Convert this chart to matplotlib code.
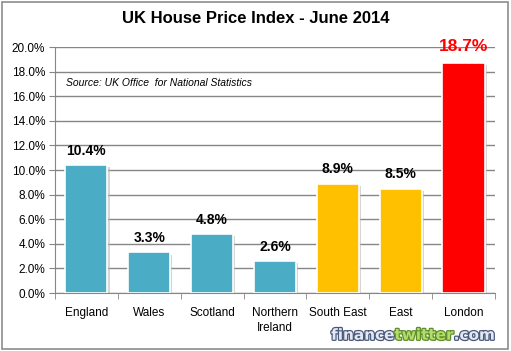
import matplotlib.pyplot as plt
import matplotlib.patheffects as pe

regions = ['England', 'Wales', 'Scotland', 'Northern\nIreland', 'South East', 'East', 'London']
growth = [10.4, 3.3, 4.8, 2.6, 8.9, 8.5, 18.7]
colors = ['#4BACC6', '#4BACC6', '#4BACC6', '#4BACC6', '#FFC000', '#FFC000', '#FF0000']
label_colors = ['black'] * 6 + ['#FF0000']
yticks = [0, 2, 4, 6, 8, 10, 12, 14, 16, 18, 20]

plt.rcParams['font.family'] = ['Liberation Sans', 'DejaVu Sans']

fig = plt.figure(figsize=(5.11, 3.51), dpi=100)
fig.patch.set_facecolor('white')
fig.add_artist(plt.Rectangle((0.004, 0.006), 0.99, 0.988, transform=fig.transFigure,
                             fill=False, edgecolor='#8C8C8C', linewidth=1.2))
ax = fig.add_axes([0.1076, 0.165, 0.861, 0.701])

x = range(len(regions))
bars = ax.bar(x, growth, width=0.67, color=colors, edgecolor='white', linewidth=1.2, zorder=3)
for b in bars:
    b.set_path_effects([pe.SimplePatchShadow(offset=(1.5, -1.5), shadow_rgbFace='#BBBBBB', alpha=0.6),
                        pe.Normal()])

for xi, v, c in zip(x, growth, label_colors):
    if c == 'black':
        ax.text(xi, v + 1.15, f'{v:.1f}%', ha='center', va='center', fontsize=10,
                fontweight='bold', color=c)
    else:
        ax.text(xi, v + 1.35, f'{v:.1f}%', ha='center', va='center', fontsize=12.5,
                fontweight='bold', color=c)

ax.set_ylim(0, 20)
ax.set_xlim(-0.5, len(regions) - 0.5)
ax.set_yticks(yticks)
ax.set_yticklabels([f'{t:.1f}%' for t in yticks], fontsize=8.5)
ax.set_xticks(x)
ax.set_xticklabels(regions, fontsize=8.5, linespacing=1.3)
ax.set_xticks([i - 0.5 for i in range(len(regions) + 1)], minor=True)
ax.tick_params(axis='x', which='major', length=0, pad=10)
ax.tick_params(axis='x', which='minor', length=4, color='#868686')
ax.tick_params(axis='y', length=4, color='#868686', pad=3)
ax.grid(axis='y', color='#868686', linewidth=1, zorder=0)
for s in ['top', 'right']:
    ax.spines[s].set_visible(False)
ax.spines['left'].set_color('#868686')
ax.spines['bottom'].set_color('#868686')

fig.text(0.5, 0.948, 'UK House Price Index - June 2014', ha='center', va='center',
         fontsize=12, fontweight='bold')
ax.text(0.025, 0.853, 'Source: UK Office  for National Statistics', transform=ax.transAxes,
        fontsize=7.5, style='italic', va='center')

# watermark
fig.canvas.draw()
renderer = fig.canvas.get_renderer()
xpos = 0.648
for part, face, edge in [('finance', '#E4E8F2', '#4A5A7A'),
                         ('twitter', '#B4DC6A', '#5E8E2E'),
                         ('.com', '#E4E8F2', '#4A5A7A')]:
    t = fig.text(xpos, 0.045, part, color=face, ha='left', va='center', fontsize=11,
                 fontweight='bold', family='DejaVu Sans',
                 path_effects=[pe.withStroke(linewidth=1.8, foreground=edge)])
    bb = t.get_window_extent(renderer)
    xpos += bb.width / fig.bbox.width

fig.savefig('out.png', dpi=100, facecolor='white')
